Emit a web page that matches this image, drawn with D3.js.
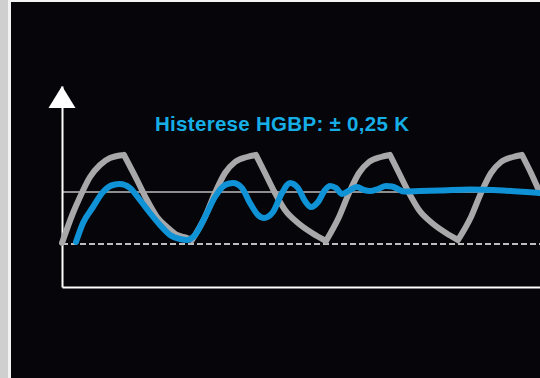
<!DOCTYPE html>
<html><head><meta charset="utf-8">
<script src="https://cdn.jsdelivr.net/npm/d3@7"></script>
<style>html,body{margin:0;padding:0;background:#060509;overflow:hidden}</style>
</head><body>
<svg id="chart" width="540" height="378"></svg>
<script>
// ---- data ----
const titleText = "Histerese HGBP: ± 0,25 K";
// on/off (2-point) controller temperature curve
const onOffTime = [0,11,18,28,38,48,62, 75,85,95,105,115,125,130, 143,153,163,173,185,194, 203,213,223,236,250,264, 277,287,297,307,319,328, 337,347,357,370,384,396, 409,419,429,439,451,460, 469,478];
const onOffTemp = [44,74,90,110,122,129,132, 107,87,70,60,52,49,47, 70,94,114,125,130,132, 114,94,77,64,54,46, 70,94,114,125,130,132, 114,94,77,64,54,47, 70,94,114,125,130,132, 114,94];
// HGBP controlled temperature curve
const hgbpTime = [14,21,31,41,51,58,68,78,88,98,108,118,125,133,143,153,163,171,180,188,196,202,211,220,228,236,243,249,256,263,268,274,280,288,295,302,308,316,324,330,336,342,358,378,408,441,478];
const hgbpTemp = [45,64,80,95,102,103,99,87,74,62,52,48,47,52,70,90,102,104,99,84,72,69,75,94,104,99,86,80,85,97,101,99,93,97,100,97,96,98,101,100.5,98,95.5,96,96.5,97.5,96.5,94];
const lowerLimit = 43;
const referenceLevel = 95;
const xMax = 478, yMax = 201;

// ---- drawing ----
const svg = d3.select("#chart");
const W = 540, H = 378;
svg.append("rect").attr("width", W).attr("height", H).attr("fill", "#060509");
// frame strips
svg.append("rect").attr("x", 0).attr("y", 0).attr("width", 8).attr("height", H).attr("fill", "#cfcfcf");
svg.append("rect").attr("x", 8).attr("y", 0).attr("width", 3).attr("height", H).attr("fill", "#f2f2f2");
svg.append("rect").attr("x", 11).attr("y", 0).attr("width", W - 11).attr("height", 2).attr("fill", "#f4f4f4");

const x = d3.scaleLinear().domain([0, xMax]).range([62, 540]);
const y = d3.scaleLinear().domain([0, yMax]).range([287, 86]);

// reference lines
svg.append("line").attr("x1", x(0)).attr("x2", x(xMax))
  .attr("y1", y(referenceLevel)).attr("y2", y(referenceLevel))
  .attr("stroke", "#8e8e8e").attr("stroke-width", 2);
svg.append("line").attr("x1", x(0)).attr("x2", x(xMax))
  .attr("y1", y(lowerLimit)).attr("y2", y(lowerLimit))
  .attr("stroke", "#bdbdbd").attr("stroke-width", 2).attr("stroke-dasharray", "6,3");

// axes
svg.append("g").attr("transform", `translate(0,${y(0)})`)
  .call(d3.axisBottom(x).ticks(0).tickSizeOuter(0));
svg.append("g").attr("transform", `translate(${x(0)},0)`)
  .call(d3.axisLeft(y).ticks(0).tickSizeOuter(0));
svg.selectAll(".domain").attr("stroke", "#ffffff").attr("stroke-width", 2);
// arrow head
const ax = x(0), tip = y(yMax);
svg.append("path").attr("d", `M${ax - 13.5},${tip + 22}L${ax},${tip}L${ax + 13.5},${tip + 22}Z`).attr("fill", "#ffffff");

// gray on/off curve, split into monotone runs so the peaks stay sharp
const grayPts = onOffTime.map((t, i) => [t, onOffTemp[i]]);
const runs = [];
let cur = [grayPts[0]], dir = 0;
for (let i = 1; i < grayPts.length; i++) {
  const d = Math.sign(grayPts[i][1] - grayPts[i - 1][1]);
  if (dir !== 0 && d !== 0 && d !== dir) { runs.push(cur); cur = [grayPts[i - 1]]; }
  if (d !== 0) dir = d;
  cur.push(grayPts[i]);
}
runs.push(cur);
const line = d3.line().x(d => x(d[0])).y(d => y(d[1])).curve(d3.curveMonotoneX);
svg.append("path").attr("d", runs.map(r => line(r)).join(""))
  .attr("fill", "none").attr("stroke", "#a8a8aa").attr("stroke-width", 6)
  .attr("stroke-linejoin", "round").attr("stroke-linecap", "round");

// blue HGBP curve
const bluePts = hgbpTime.map((t, i) => [t, hgbpTemp[i]]);
svg.append("path").attr("d", line(bluePts))
  .attr("fill", "none").attr("stroke", "#0f93d6").attr("stroke-width", 6)
  .attr("stroke-linejoin", "round").attr("stroke-linecap", "round");

// title
svg.append("text").attr("x", 155).attr("y", 131)
  .attr("font-family", "'Liberation Sans', Arial, sans-serif").attr("font-weight", "bold")
  .attr("font-size", 20.5).attr("letter-spacing", 0.3).attr("fill", "#16aee6").text(titleText);
</script>
</body></html>
